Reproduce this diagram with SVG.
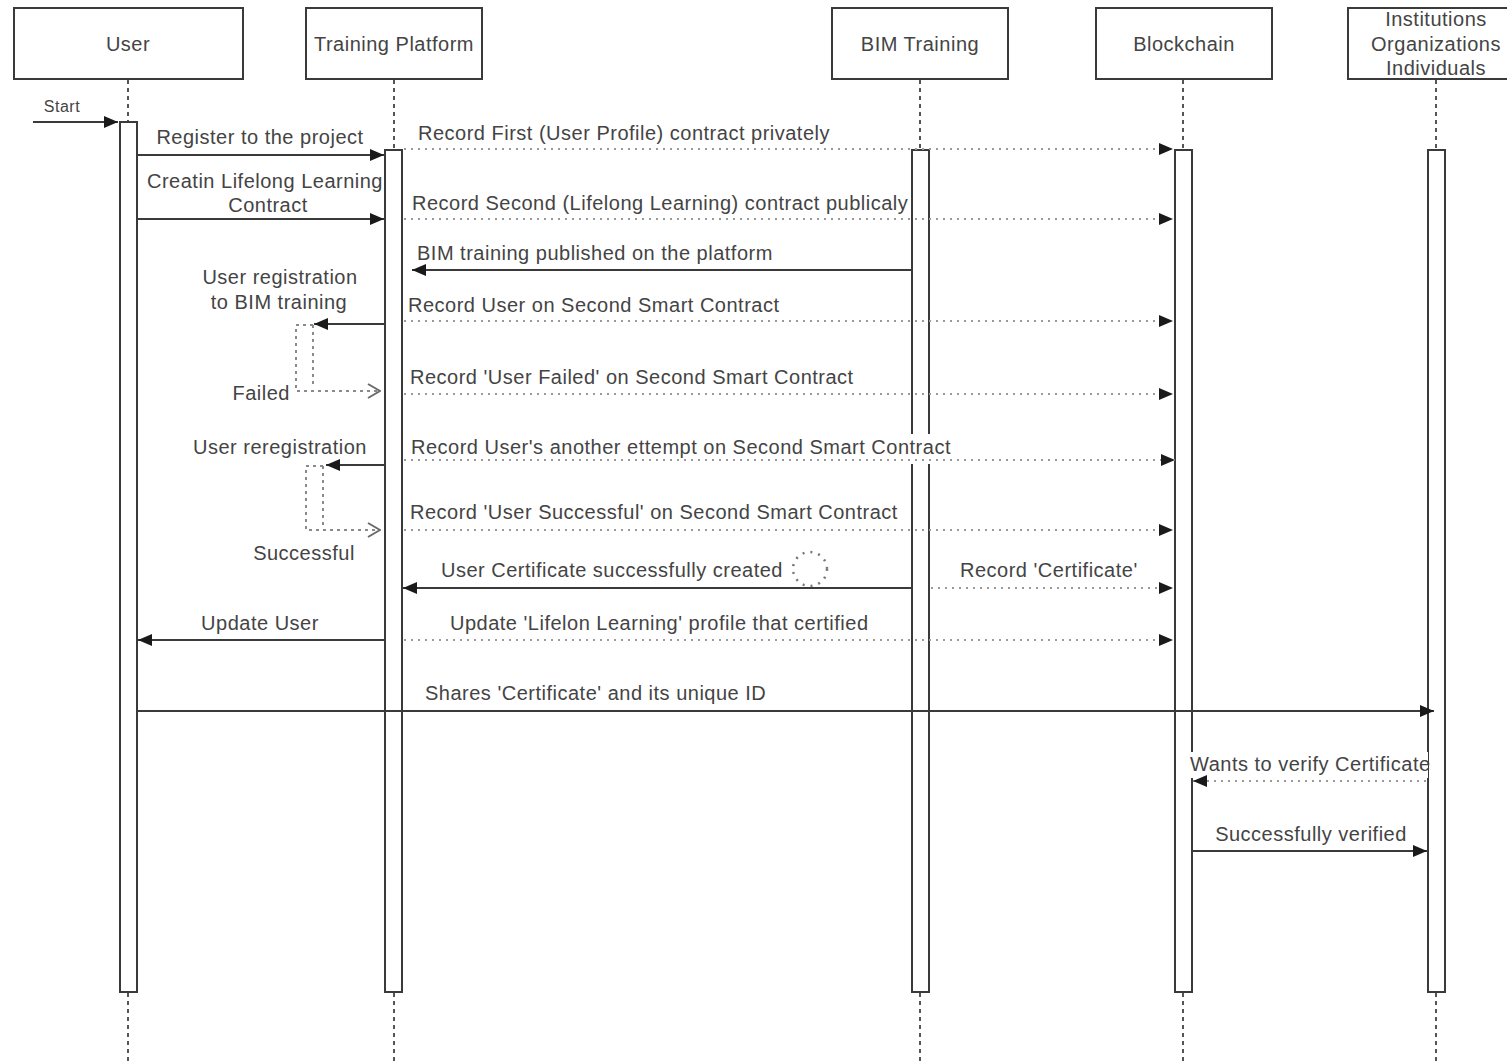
<svg xmlns="http://www.w3.org/2000/svg" width="1507" height="1063" viewBox="0 0 1507 1063">
  <style>
    text { font-family: "Liberation Sans", Arial, sans-serif; font-size: 20px; letter-spacing: 0.5px; fill: #444444; dominant-baseline: central; }
    .hdr { fill: #ffffff; stroke: #3a3a3a; stroke-width: 2; }
    .hdr-t { font-size: 20px; text-anchor: middle; }
    .life { stroke: #555; stroke-width: 2; stroke-dasharray: 4 4; fill: none; }
    .bar { fill: #ffffff; stroke: #3a3a3a; stroke-width: 2; }
    .msg { stroke: #3a3a3a; stroke-width: 2; fill: none; }
    .dot { stroke: #9a9a9a; stroke-width: 2; stroke-dasharray: 2 5; fill: none; }
    .loop { stroke: #8a8a8a; stroke-width: 2; stroke-dasharray: 3 4; fill: none; }
    .mid { text-anchor: middle; }
    .end { text-anchor: end; }
    .lbl-bg { fill: #ffffff; }
  </style>
  <defs>
    <marker id="block" markerUnits="userSpaceOnUse" viewBox="0 0 14 12" refX="14" refY="6" markerWidth="14" markerHeight="12" orient="auto">
      <path d="M0,0 L14,6 L0,12 Z" fill="#1a1a1a"/>
    </marker>
    <marker id="open" markerUnits="userSpaceOnUse" viewBox="0 0 14 16" refX="13" refY="8" markerWidth="14" markerHeight="16" orient="auto">
      <path d="M1,1 L13,8 L1,15" fill="none" stroke="#6a6a6a" stroke-width="2"/>
    </marker>
  </defs>

  <rect width="1507" height="1063" fill="#ffffff"/>

  <!-- lifelines -->
  <g id="user">
    <rect class="hdr" x="14" y="8" width="229" height="71"/>
    <text class="hdr-t" x="128" y="44">User</text>
    <line class="life" x1="128" y1="80" x2="128" y2="122"/>
    <line class="life" x1="128" y1="993" x2="128" y2="1063"/>
    <rect class="bar" x="120" y="122" width="17" height="870"/>
  </g>
  <g id="training-platform">
    <rect class="hdr" x="306" y="8" width="176" height="71"/>
    <text class="hdr-t" x="394" y="44">Training Platform</text>
    <line class="life" x1="394" y1="80" x2="394" y2="150"/>
    <line class="life" x1="394" y1="993" x2="394" y2="1063"/>
    <rect class="bar" x="385" y="150" width="17" height="842"/>
  </g>
  <g id="bim-training">
    <rect class="hdr" x="832" y="8" width="176" height="71"/>
    <text class="hdr-t" x="920" y="44">BIM Training</text>
    <line class="life" x1="920" y1="80" x2="920" y2="150"/>
    <line class="life" x1="920" y1="993" x2="920" y2="1063"/>
    <rect class="bar" x="912" y="150" width="17" height="842"/>
  </g>
  <g id="blockchain">
    <rect class="hdr" x="1096" y="8" width="176" height="71"/>
    <text class="hdr-t" x="1184" y="44">Blockchain</text>
    <line class="life" x1="1183" y1="80" x2="1183" y2="150"/>
    <line class="life" x1="1183" y1="993" x2="1183" y2="1063"/>
    <rect class="bar" x="1175" y="150" width="17" height="842"/>
  </g>
  <g id="institutions">
    <rect class="hdr" x="1348" y="8" width="176" height="71"/>
    <text class="hdr-t" x="1436" y="19">Institutions</text>
    <text class="hdr-t" x="1436" y="44">Organizations</text>
    <text class="hdr-t" x="1436" y="68">Individuals</text>
    <line class="life" x1="1436" y1="80" x2="1436" y2="150"/>
    <line class="life" x1="1436" y1="993" x2="1436" y2="1063"/>
    <rect class="bar" x="1428" y="150" width="17" height="842"/>
  </g>

  <!-- messages -->
  <g id="connectors">
    <text x="62" y="106" class="mid" style="font-size:16px">Start</text>
    <line class="msg" x1="33" y1="122" x2="118" y2="122" marker-end="url(#block)"/>

    <text x="260" y="137" class="mid">Register to the project</text>
    <line class="msg" x1="138" y1="155" x2="384" y2="155" marker-end="url(#block)"/>

    <text x="265" y="181" class="mid">Creatin Lifelong Learning</text>
    <text x="268" y="205" class="mid">Contract</text>
    <line class="msg" x1="138" y1="219" x2="384" y2="219" marker-end="url(#block)"/>

    <text x="418" y="133">Record First (User Profile) contract privately</text>
    <line class="dot" x1="404" y1="149" x2="1173" y2="149" marker-end="url(#block)"/>

    <text x="412" y="203">Record Second (Lifelong Learning) contract publicaly</text>
    <line class="dot" x1="404" y1="219" x2="1173" y2="219" marker-end="url(#block)"/>

    <text x="417" y="253">BIM training published on the platform</text>
    <line class="msg" x1="911" y1="270" x2="412" y2="270" marker-end="url(#block)"/>

    <text x="280" y="277" class="mid">User registration</text>
    <text x="279" y="302" class="mid">to BIM training</text>
    <line class="msg" x1="384" y1="324" x2="314" y2="324" marker-end="url(#block)"/>
    <path class="loop" d="M313,325 L296,325 L296,391 L380,391" marker-end="url(#open)"/>
    <line class="loop" x1="313" y1="325" x2="313" y2="386"/>
    <text x="290" y="393" class="end">Failed</text>

    <text x="408" y="305">Record User on Second Smart Contract</text>
    <line class="dot" x1="404" y1="321" x2="1173" y2="321" marker-end="url(#block)"/>

    <text x="410" y="377">Record 'User Failed' on Second Smart Contract</text>
    <line class="dot" x1="404" y1="394" x2="1173" y2="394" marker-end="url(#block)"/>

    <text x="280" y="447" class="mid">User reregistration</text>
    <line class="msg" x1="384" y1="465" x2="326" y2="465" marker-end="url(#block)"/>
    <path class="loop" d="M323,466 L306,466 L306,530 L380,530" marker-end="url(#open)"/>
    <line class="loop" x1="323" y1="466" x2="323" y2="526"/>
    <text x="304" y="553" class="mid">Successful</text>

    <rect class="lbl-bg" x="900" y="434" width="60" height="30"/>
    <text x="411" y="447">Record User's another ettempt on Second Smart Contract</text>
    <line class="dot" x1="404" y1="460" x2="1175" y2="460" marker-end="url(#block)"/>

    <text x="410" y="512">Record 'User Successful' on Second Smart Contract</text>
    <line class="dot" x1="404" y1="530" x2="1173" y2="530" marker-end="url(#block)"/>

    <text x="441" y="570">User Certificate successfully created</text>
    <circle cx="810" cy="569" r="17" fill="none" stroke="#777" stroke-width="2.5" stroke-dasharray="2 6"/>
    <line class="msg" x1="911" y1="588" x2="403" y2="588" marker-end="url(#block)"/>

    <text x="960" y="570">Record 'Certificate'</text>
    <line class="dot" x1="931" y1="588" x2="1173" y2="588" marker-end="url(#block)"/>

    <text x="260" y="623" class="mid">Update User</text>
    <line class="msg" x1="384" y1="640" x2="138" y2="640" marker-end="url(#block)"/>

    <text x="450" y="623">Update 'Lifelon Learning' profile that certified</text>
    <line class="dot" x1="404" y1="640" x2="1173" y2="640" marker-end="url(#block)"/>

    <text x="425" y="693">Shares 'Certificate' and its unique ID</text>
    <line class="msg" x1="138" y1="711" x2="1434" y2="711" marker-end="url(#block)"/>

    <rect class="lbl-bg" x="1188" y="752" width="240" height="26"/>
    <text x="1190" y="764">Wants to verify Certificate</text>
    <line class="dot" x1="1426" y1="781" x2="1193" y2="781" marker-end="url(#block)"/>

    <text x="1311" y="834" class="mid">Successfully verified</text>
    <line class="msg" x1="1193" y1="851" x2="1427" y2="851" marker-end="url(#block)"/>
  </g>
</svg>
